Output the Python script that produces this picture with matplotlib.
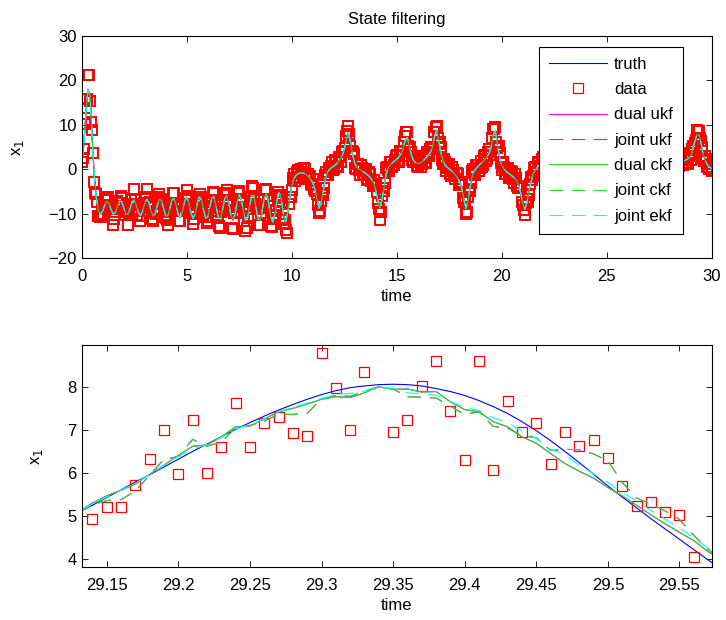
import numpy as np
import matplotlib
matplotlib.use("Agg")
import matplotlib.pyplot as plt

plt.rcParams['font.family'] = ['Liberation Sans', 'DejaVu Sans']
plt.rcParams['font.size'] = 12
plt.rcParams['xtick.direction'] = 'in'
plt.rcParams['ytick.direction'] = 'in'
plt.rcParams['xtick.top'] = True
plt.rcParams['ytick.right'] = True
plt.rcParams['axes.linewidth'] = 0.8

# full run, sampled every 0.1 s
t_top = np.round(np.arange(301) * 0.1, 1)
x1_top = [
    1.0, 5.5, 12.5, 18.0, 16.5, 7.0, -1.5, -6.5, -9.4, -10.1,
    -9.36, -8.02, -7.17, -7.63, -9.00, -10.05, -9.78, -8.41, -7.17, -7.23,
    -8.56, -9.97, -10.15, -8.90, -7.33, -6.90, -8.03, -9.72, -10.41, -9.44,
    -7.67, -6.71, -7.48, -9.31, -10.52, -9.99, -8.15, -6.69, -6.96, -8.76,
    -10.44, -10.47, -8.76, -6.87, -6.53, -8.10, -10.16, -10.82, -9.44, -7.25,
    -6.26, -7.42, -9.69, -11.00, -10.12, -7.82, -6.20, -6.77, -9.04, -10.95,
    -10.72, -8.54, -6.37, -6.22, -8.27, -10.66, -11.19, -9.34, -6.78, -5.85,
    -7.45, -10.14, -11.45, -10.16, -7.41, -5.71, -6.66, -9.40, -11.46, -10.91,
    -8.22, -5.84, -5.97, -8.52, -11.19, -11.50, -9.15, -6.25, -5.48, -7.56,
    -10.64, -11.87, -10.11, -6.93, -5.24, -6.62, -9.84, -11.96, -10.0, -6.8,
    -3.8, -2.2, -1.4, -1.0, -0.8, -0.8, -0.9, -1.2, -1.6, -2.2,
    -3.0, -4.4, -6.5, -8.7, -7.6, -4.9, -2.3, -0.7, 0.0, 0.4,
    0.7, 1.1, 1.6, 2.2, 3.0, 4.4, 6.6, 8.2, 6.2, 3.4,
    1.4, 0.5, 0.1, -0.2, -0.5, -0.8, -1.2, -1.6, -2.2, -3.1,
    -4.6, -6.9, -8.7, -6.8, -4.0, -1.0, 0.4, 1.0, 1.5, 1.9,
    2.3, 2.8, 3.4, 4.5, 6.5, 7.2, 5.3, 3.2, 2.0, 1.5,
    1.35, 1.4, 1.7, 2.1, 2.6, 3.1, 3.8, 5.0, 7.3, 8.8,
    6.4, 3.8, 2.0, 1.0, 0.5, 0.1, -0.3, -0.7, -1.3, -1.9,
    -2.8, -4.2, -6.7, -8.8, -7.0, -3.9, -1.4, -0.3, 0.3, 0.8,
    1.3, 1.7, 2.2, 2.8, 3.6, 5.0, 7.9, 8.6, 5.4, 2.8,
    1.0, 0.1, -0.4, -0.8, -1.1, -1.5, -1.9, -2.5, -3.4, -5.2,
    -7.6, -9.0, -7.5, -4.8, -2.8, -1.0, -0.2, 0.5, 1.0, 1.5,
    2.0, 2.5, 3.2, 4.3, 6.3, 8.3, 6.5, 3.6, 1.6, 0.6,
    0.0, -0.4, -0.8, -1.2, -1.7, -2.4, -3.5, -5.5, -8.2, -8.0,
    -5.0, -2.2, -0.6, 0.3, 0.9, 1.4, 1.9, 2.5, 3.3, 4.7,
    7.2, 7.9, 5.2, 2.9, 1.7, 1.3, 1.3, 1.6, 2.0, 2.5,
    3.1, 4.0, 5.6, 8.0, 7.8, 4.6, 2.3, 1.0, 0.3, -0.2,
    -0.6, -1.0, -1.5, -2.1, -3.0, -4.6, -7.2, -8.7, -6.5, -3.4,
    -1.2, -0.1, 0.5, 0.9, 1.2, 1.5, 1.7, 1.9, 2.2, 2.5,
    3.0, 4.6, 6.32, 7.82, 7.80, 5.70, 3.3, 1.9, 1.0, 0.5,
    0.2,
]
# measurement minus truth at each 0.1 s sample
meas_err_top = [
    0.6, -0.9, 1.3, 3.2, -1.2, 1.8, -1.4, 0.9, -1.1, -0.6,
    -0.7, 1.1, 0.4, -1.3, 0.8, -2.4, 0.3, 1.2, -0.5, 0.9,
    -1.1, 0.6, -2.3, 1.0, -0.4, 2.4, -0.8, 0.5, -1.2, 0.7,
    1.3, 2.2, -0.6, 0.9, -1.0, 0.4, -1.3, 1.1, 0.2, -0.8,
    -0.5, -2.0, 0.8, -1.1, 1.2, -0.3, 0.7, -0.9, 1.4, -0.6,
    1.6, -0.7, 0.5, -1.2, 0.9, 1.0, -0.4, 0.6, -1.3, 0.3,
    -0.8, 1.2, -0.5, 0.8, -1.0, 0.4, -1.9, 0.7, 1.1, 1.3,
    -0.6, 0.9, -2.0, 0.5, -1.1, 0.8, -0.3, 1.0, -2.4, 0.4,
    1.2, 2.2, -0.9, 0.6, -1.3, -0.9, 0.7, -0.5, 1.0, -0.6,
    -2.2, 0.8, -0.4, 1.0, -0.6, 0.9, -1.2, 0.5, -4.3, 0.7,
    -0.9, 1.1, -0.5, 0.8, -1.0, 0.3, 1.2, -0.7, 0.6, -1.1,
    0.9, -0.4, 1.0, -1.2, 0.5, -0.8, 1.1, -0.6, 0.4, 1.2,
    -0.7, 0.9, -1.1, 0.6, 1.0, -0.5, 0.8, 1.6, -0.9, 0.4,
    -1.0, 0.7, -0.3, 1.1, -0.8, 0.5, -1.2, 0.9, -0.4, 0.6,
    1.0, -0.6, -2.6, 0.8, -0.9, 1.2, -0.5, 0.7, -1.0, 0.3,
    0.9, -1.1, 0.5, -0.7, 1.0, 1.3, -0.8, 0.6, -0.4, 1.1,
    -0.9, 0.5, -0.6, 1.0, -1.2, 0.4, 0.8, -0.5, 1.1, 1.0,
    -0.7, 1.2, -0.9, 0.6, -0.3, 1.0, -1.1, 0.5, -0.8, 0.9,
    -0.4, 1.1, -0.6, -1.3, 0.8, -0.9, 1.0, -0.5, 0.7, -1.2,
    0.6, -0.8, 1.1, -0.4, 0.9, -1.0, 1.2, 0.9, -0.6, 0.8,
    -1.1, 0.5, -0.7, 1.0, -0.3, 0.9, -1.2, 0.6, -0.8, 1.1,
    -0.5, -1.2, 0.8, -0.9, 1.0, -0.4, 0.7, -1.1, 0.5, 0.9,
    -0.6, 1.0, -0.8, 0.4, -1.1, 0.7, 1.0, -0.5, 0.8, -0.9,
    0.5, -1.0, 0.9, -0.3, 1.1, -0.7, 0.6, -1.2, 0.4, 0.8,
    -0.9, 0.7, -0.4, 1.0, -1.1, 0.5, 0.8, -0.6, 1.2, -0.3,
    0.9, -1.0, 0.6, -0.5, 1.1, -0.8, 0.4, 0.7, -1.2, 0.5,
    -0.7, 1.0, -0.4, 0.8, -1.1, 0.6, -0.9, 1.2, -0.5, 0.3,
    0.8, -1.1, 0.5, -0.7, 1.0, -0.4, 0.9, -1.2, 0.6, -0.8,
    1.1, -0.5, 0.7, -1.0, 0.4, 0.9, -0.6, 1.0, -0.8, 0.5,
    -1.0, 0.7, -0.34, 0.96, 0.78, 0.65, -0.9, 1.0, -0.5, 0.8,
    -0.6,
]
y_top = np.array(x1_top) + np.array(meas_err_top)

# measurements taken half way between the 0.1 s samples
t_top_mid = np.round(0.05 + np.arange(300) * 0.1, 2)
y_top_mid = [
    2.45, 10.2, 15.75, 21.3, 10.75, 3.65, -5.3, -7.35, -10.65, -8.63,
    -7.99, -8.60, -6.30, -8.82, -8.63, -11.12, -8.70, -8.59, -5.90, -8.50,
    -10.37, -9.26, -9.93, -6.92, -7.82, -6.97, -10.18, -9.17, -10.53, -7.56,
    -6.29, -7.70, -7.30, -11.12, -9.76, -9.97, -6.22, -7.23, -7.06, -10.70,
    -11.46, -9.02, -8.62, -5.40, -7.82, -8.13, -11.69, -9.43, -9.25, -6.36,
    -6.04, -9.66, -9.85, -11.26, -7.77, -7.41, -5.59, -8.91, -9.40, -12.14,
    -8.63, -8.16, -5.00, -7.75, -8.67, -12.83, -9.67, -8.96, -5.22, -7.05,
    -9.40, -13.10, -9.91, -9.79, -5.36, -6.69, -7.23, -11.63, -13.09, -8.87,
    -6.13, -4.11, -7.85, -8.86, -12.45, -9.83, -8.60, -4.67, -6.92, -8.30,
    -12.86, -10.29, -9.42, -4.99, -6.43, -7.33, -12.30, -13.58, -7.80, -6.30,
    -2.0, -2.6, -0.6, -2.0, 0.1, -1.35, 0.15, -2.1, -1.5, -3.6,
    -4.5, -4.35, -8.1, -9.35, -5.35, -4.2, -0.5, -1.25, 0.7, -0.15,
    2.0, 0.75, 2.8, 1.6, 4.2, 4.7, 8.6, 8.0, 4.1, 3.4,
    0.05, 1.1, -1.25, 0.25, -1.05, 0.1, -2.1, -1.0, -3.65, -3.35,
    -5.05, -8.8, -9.65, -4.2, -3.1, 0.6, -0.4, 1.75, 0.9, 3.1,
    1.95, 4.1, 3.05, 6.2, 8.3, 5.15, 5.05, 2.1, 2.95, 0.73,
    2.28, 0.55, 2.5, 1.55, 3.95, 2.95, 5.1, 4.95, 9.5, 7.0,
    6.2, 2.2, 2.4, -0.45, 0.8, -1.0, 0.5, -1.6, -0.8, -3.45,
    -2.9, -6.45, -6.95, -9.5, -4.35, -3.15, 0.05, -1.2, 0.95, 0.25,
    0.6, 3.05, 1.9, 4.0, 3.3, 7.15, 9.15, 6.2, 5.3, 1.4,
    1.55, -0.95, 0.0, -2.05, -0.4, -2.1, -1.0, -3.65, -3.8, -7.4,
    -9.2, -7.45, -7.25, -3.2, -2.4, 0.4, -0.65, 1.65, 0.65, 2.85,
    1.55, 3.85, 3.25, 6.1, 6.2, 8.3, 4.45, 3.8, 0.2, 0.8,
    0.7, -1.6, -0.4, -2.15, -0.95, -3.45, -3.7, -8.05, -7.7, -7.4,
    -2.6, -2.0, 0.65, -0.5, 1.65, 0.75, 3.4, 2.5, 4.7, 4.95,
    6.75, 7.65, 3.55, 3.2, 0.3, 1.9, 0.75, 2.8, 1.85, 3.6,
    4.15, 3.8, 7.7, 7.4, 7.3, 2.65, 2.35, -0.55, 0.55, -1.0,
    0.2, -1.95, -1.0, -3.65, -3.3, -6.8, -6.75, -8.2, -4.05, -3.3,
    -1.25, 1.1, -0.3, 1.75, 0.85, 2.7, 1.0, 2.65, 1.15, 3.65,
    4.5, 5.22, 6.61, 6.94, 7.16, 5.02, 1.8, 2.4, 0.15, 1.25,
]

# close-up window, every 0.01 s
t_zoom = np.round(29.13 + 0.01 * np.arange(46), 2)
x1_zoom = [
    5.08, 5.25, 5.43, 5.61, 5.79, 5.96, 6.14, 6.32, 6.50, 6.67,
    6.84, 7.01, 7.17, 7.32, 7.46, 7.59, 7.71, 7.82, 7.91, 7.98,
    8.02, 8.05, 8.06, 8.05, 8.02, 7.96, 7.89, 7.80, 7.68, 7.54,
    7.38, 7.19, 6.98, 6.75, 6.50, 6.24, 5.97, 5.70, 5.44, 5.19,
    4.94, 4.70, 4.46, 4.22, 3.98, 3.74,
]
dual_ckf_zoom = [
    5.10, 5.30, 5.47, 5.60, 5.74, 5.97, 6.18, 6.41, 6.62, 6.65,
    6.84, 7.07, 7.09, 7.25, 7.42, 7.50, 7.60, 7.71, 7.77, 7.75,
    7.86, 8.00, 7.94, 7.95, 7.88, 7.89, 7.65, 7.47, 7.42, 7.19,
    7.07, 6.84, 6.69, 6.45, 6.22, 6.04, 5.88, 5.66, 5.47, 5.25,
    5.03, 4.82, 4.62, 4.43, 4.17, 3.98,
]
joint_ckf_zoom = [
    5.08, 5.26, 5.36, 5.38, 5.58, 5.95, 6.32, 6.38, 6.78, 6.62,
    6.72, 7.05, 7.10, 7.20, 7.36, 7.36, 7.38, 7.72, 7.80, 7.78,
    7.90, 8.00, 7.95, 7.77, 7.76, 7.74, 7.55, 7.36, 7.42, 7.08,
    7.04, 6.86, 6.82, 6.52, 6.55, 6.54, 6.44, 6.28, 5.78, 5.42,
    5.28, 5.12, 4.92, 4.55, 4.22, 4.00,
]
joint_ekf_zoom = [
    5.10, 5.28, 5.44, 5.60, 5.76, 5.97, 6.17, 6.38, 6.55, 6.66,
    6.82, 7.02, 7.12, 7.26, 7.42, 7.53, 7.62, 7.73, 7.82, 7.85,
    7.90, 7.97, 7.97, 7.86, 7.84, 7.80, 7.66, 7.52, 7.45, 7.28,
    7.17, 6.97, 6.80, 6.55, 6.42, 6.18, 5.98, 5.78, 5.55, 5.35,
    5.13, 4.93, 4.72, 4.50, 4.25, 4.05,
]
# ukf runs lie underneath the ckf ones
dual_ukf_zoom = dual_ckf_zoom
joint_ukf_zoom = joint_ckf_zoom

t_data_zoom = np.round(29.14 + 0.01 * np.arange(43), 2)
y_zoom = [
    4.92, 5.22, 5.22, 5.72, 6.33, 6.99, 5.98, 7.23, 6.01, 6.61,
    7.62, 6.61, 7.16, 7.30, 6.92, 6.86, 8.78, 7.97, 7.00, 8.35,
    np.nan, 6.94, 7.22, 8.01, 8.59, 7.43, 6.31, 8.59, 6.08, 7.68,
    6.95, 7.16, 6.20, 6.96, 6.62, 6.76, 6.35, 5.70, 5.24, 5.33,
    5.10, 5.02, 4.05,
]

zoom_ticks = [29.15, 29.2, 29.25, 29.3, 29.35, 29.4, 29.45, 29.5, 29.55]
zoom_tick_labels = ['29.15', '29.2', '29.25', '29.3', '29.35', '29.4', '29.45', '29.5', '29.55']

green = '#22dd22'
lw = 0.8
dash = (12, 8)
filters = [
    ('dual ukf', '#ff00ff', None, dual_ukf_zoom),
    ('joint ukf', '#ff00ff', dash, joint_ukf_zoom),
    ('dual ckf', green, None, dual_ckf_zoom),
    ('joint ckf', green, dash, joint_ckf_zoom),
    ('joint ekf', '#00ffff', dash, joint_ekf_zoom),
]
sq = dict(linestyle='none', marker='s', mfc='none', mec='red', ms=7, mew=0.9)
# heavier edges where thousands of samples pile up
sq_dense = dict(sq, mew=1.4)

fig = plt.figure(figsize=(7.26, 6.2), dpi=100)
ax1 = fig.add_axes([0.1125, 0.5834, 0.8678, 0.3585])
ax2 = fig.add_axes([0.1125, 0.0850, 0.8678, 0.3585])

# top: whole run, estimates sit on the truth at this scale
ax1.plot(t_top, x1_top, color='blue', lw=lw, label='truth')
ax1.plot(t_top, y_top, **sq_dense)
ax1.plot(t_top_mid, y_top_mid, **sq_dense)
ax1.plot([], [], label='data', **sq)
for name, col, ds, _ in filters:
    line, = ax1.plot(t_top, x1_top, color=col, lw=lw, label=name)
    if ds:
        line.set_dashes(ds)

ax1.set_xlim(0, 30)
ax1.set_ylim(-20, 30)
ax1.set_xticks([0, 5, 10, 15, 20, 25, 30])
ax1.set_yticks([-20, -10, 0, 10, 20, 30])
ax1.set_xlabel('time')
ax1.set_ylabel('x$_1$', labelpad=16)
ax1.set_title('State filtering', fontsize=12, pad=9)
leg = ax1.legend(loc='upper right', bbox_to_anchor=(0.9544, 0.952), borderaxespad=0,
                 numpoints=1, fancybox=False, framealpha=1, edgecolor='black',
                 handlelength=3.5, handletextpad=0.4, labelspacing=0.62, borderpad=0.6)
leg.get_frame().set_linewidth(0.8)

# bottom: close-up around the last peak
ax2.plot(t_zoom, x1_zoom, color='blue', lw=lw)
ax2.plot(t_data_zoom, y_zoom, **sq)
for name, col, ds, vals in filters:
    line, = ax2.plot(t_zoom, vals, color=col, lw=lw)
    if ds:
        line.set_dashes(ds)

ax2.set_xlim(29.1325, 29.5725)
ax2.set_ylim(3.81, 8.97)
ax2.set_xticks(zoom_ticks)
ax2.set_xticklabels(zoom_tick_labels)
ax2.set_yticks([4, 5, 6, 7, 8])
ax2.set_xlabel('time')
ax2.set_ylabel('x$_1$', labelpad=16)

for ax in (ax1, ax2):
    ax.tick_params(length=4, width=0.6)
    ax.tick_params(axis='x', pad=7.5)

fig.savefig('out.png', dpi=100)
